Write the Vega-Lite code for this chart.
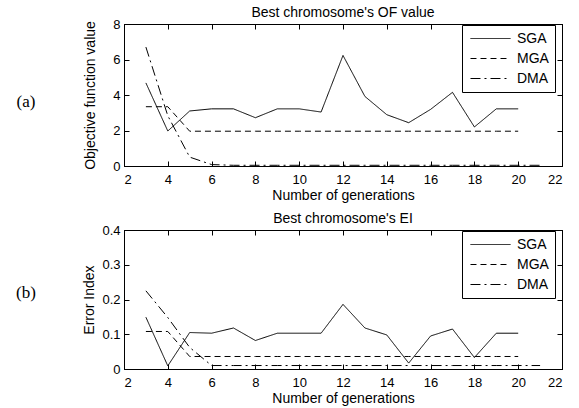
{
  "$schema": "https://vega.github.io/schema/vega-lite/v6.json",
  "padding": 5,
  "background": "white",
  "config": {
    "font": "Liberation Sans",
    "view": {"stroke": "black", "strokeWidth": 1},
    "axis": {"grid": false, "domainColor": "black", "tickColor": "black", "labelColor": "black", "titleColor": "black", "labelFont": "Liberation Sans", "titleFont": "Liberation Sans", "labelFontSize": 13, "titleFontSize": 14, "titleFontWeight": "normal", "tickSize": -5, "domainWidth": 1, "tickWidth": 1},
    "title": {"font": "Liberation Sans", "fontSize": 14, "fontWeight": "normal", "color": "black", "offset": -2},
    "legend": {"labelFont": "Liberation Sans", "labelFontSize": 14, "labelColor": "black"}
  },
  "datasets": {
    "of": [
      {"gen": 3, "series": "SGA", "value": 4.68}, {"gen": 4, "series": "SGA", "value": 1.97}, {"gen": 5, "series": "SGA", "value": 3.1}, {"gen": 6, "series": "SGA", "value": 3.22}, {"gen": 7, "series": "SGA", "value": 3.22}, {"gen": 8, "series": "SGA", "value": 2.72}, {"gen": 9, "series": "SGA", "value": 3.22}, {"gen": 10, "series": "SGA", "value": 3.22}, {"gen": 11, "series": "SGA", "value": 3.04}, {"gen": 12, "series": "SGA", "value": 6.23}, {"gen": 13, "series": "SGA", "value": 3.92}, {"gen": 14, "series": "SGA", "value": 2.89}, {"gen": 15, "series": "SGA", "value": 2.44}, {"gen": 16, "series": "SGA", "value": 3.19}, {"gen": 17, "series": "SGA", "value": 4.15}, {"gen": 18, "series": "SGA", "value": 2.2}, {"gen": 19, "series": "SGA", "value": 3.22}, {"gen": 20, "series": "SGA", "value": 3.22},
      {"gen": 3, "series": "MGA", "value": 3.34}, {"gen": 4, "series": "MGA", "value": 3.34}, {"gen": 5, "series": "MGA", "value": 1.96}, {"gen": 6, "series": "MGA", "value": 1.96}, {"gen": 7, "series": "MGA", "value": 1.96}, {"gen": 8, "series": "MGA", "value": 1.96}, {"gen": 9, "series": "MGA", "value": 1.96}, {"gen": 10, "series": "MGA", "value": 1.96}, {"gen": 11, "series": "MGA", "value": 1.96}, {"gen": 12, "series": "MGA", "value": 1.96}, {"gen": 13, "series": "MGA", "value": 1.96}, {"gen": 14, "series": "MGA", "value": 1.96}, {"gen": 15, "series": "MGA", "value": 1.96}, {"gen": 16, "series": "MGA", "value": 1.96}, {"gen": 17, "series": "MGA", "value": 1.96}, {"gen": 18, "series": "MGA", "value": 1.96}, {"gen": 19, "series": "MGA", "value": 1.96}, {"gen": 20, "series": "MGA", "value": 1.96},
      {"gen": 3, "series": "DMA", "value": 6.7}, {"gen": 4, "series": "DMA", "value": 2.83}, {"gen": 5, "series": "DMA", "value": 0.5}, {"gen": 6, "series": "DMA", "value": 0.08}, {"gen": 7, "series": "DMA", "value": 0.04}, {"gen": 8, "series": "DMA", "value": 0.04}, {"gen": 9, "series": "DMA", "value": 0.04}, {"gen": 10, "series": "DMA", "value": 0.04}, {"gen": 11, "series": "DMA", "value": 0.04}, {"gen": 12, "series": "DMA", "value": 0.04}, {"gen": 13, "series": "DMA", "value": 0.04}, {"gen": 14, "series": "DMA", "value": 0.04}, {"gen": 15, "series": "DMA", "value": 0.04}, {"gen": 16, "series": "DMA", "value": 0.04}, {"gen": 17, "series": "DMA", "value": 0.04}, {"gen": 18, "series": "DMA", "value": 0.04}, {"gen": 19, "series": "DMA", "value": 0.04}, {"gen": 20, "series": "DMA", "value": 0.04}, {"gen": 21, "series": "DMA", "value": 0.04}
    ],
    "ei": [
      {"gen": 3, "series": "SGA", "value": 0.149}, {"gen": 4, "series": "SGA", "value": 0.009}, {"gen": 5, "series": "SGA", "value": 0.105}, {"gen": 6, "series": "SGA", "value": 0.103}, {"gen": 7, "series": "SGA", "value": 0.118}, {"gen": 8, "series": "SGA", "value": 0.082}, {"gen": 9, "series": "SGA", "value": 0.103}, {"gen": 10, "series": "SGA", "value": 0.103}, {"gen": 11, "series": "SGA", "value": 0.103}, {"gen": 12, "series": "SGA", "value": 0.186}, {"gen": 13, "series": "SGA", "value": 0.118}, {"gen": 14, "series": "SGA", "value": 0.098}, {"gen": 15, "series": "SGA", "value": 0.017}, {"gen": 16, "series": "SGA", "value": 0.095}, {"gen": 17, "series": "SGA", "value": 0.115}, {"gen": 18, "series": "SGA", "value": 0.033}, {"gen": 19, "series": "SGA", "value": 0.103}, {"gen": 20, "series": "SGA", "value": 0.103},
      {"gen": 3, "series": "MGA", "value": 0.108}, {"gen": 4, "series": "MGA", "value": 0.108}, {"gen": 5, "series": "MGA", "value": 0.036}, {"gen": 6, "series": "MGA", "value": 0.036}, {"gen": 7, "series": "MGA", "value": 0.036}, {"gen": 8, "series": "MGA", "value": 0.036}, {"gen": 9, "series": "MGA", "value": 0.036}, {"gen": 10, "series": "MGA", "value": 0.036}, {"gen": 11, "series": "MGA", "value": 0.036}, {"gen": 12, "series": "MGA", "value": 0.036}, {"gen": 13, "series": "MGA", "value": 0.036}, {"gen": 14, "series": "MGA", "value": 0.036}, {"gen": 15, "series": "MGA", "value": 0.036}, {"gen": 16, "series": "MGA", "value": 0.036}, {"gen": 17, "series": "MGA", "value": 0.036}, {"gen": 18, "series": "MGA", "value": 0.036}, {"gen": 19, "series": "MGA", "value": 0.036}, {"gen": 20, "series": "MGA", "value": 0.036},
      {"gen": 3, "series": "DMA", "value": 0.225}, {"gen": 4, "series": "DMA", "value": 0.148}, {"gen": 5, "series": "DMA", "value": 0.062}, {"gen": 6, "series": "DMA", "value": 0.01}, {"gen": 7, "series": "DMA", "value": 0.01}, {"gen": 8, "series": "DMA", "value": 0.01}, {"gen": 9, "series": "DMA", "value": 0.01}, {"gen": 10, "series": "DMA", "value": 0.01}, {"gen": 11, "series": "DMA", "value": 0.01}, {"gen": 12, "series": "DMA", "value": 0.01}, {"gen": 13, "series": "DMA", "value": 0.01}, {"gen": 14, "series": "DMA", "value": 0.01}, {"gen": 15, "series": "DMA", "value": 0.01}, {"gen": 16, "series": "DMA", "value": 0.01}, {"gen": 17, "series": "DMA", "value": 0.01}, {"gen": 18, "series": "DMA", "value": 0.01}, {"gen": 19, "series": "DMA", "value": 0.01}, {"gen": 20, "series": "DMA", "value": 0.01}, {"gen": 21, "series": "DMA", "value": 0.01}
    ]
  },
  "columns": 2,
  "bounds": "flush",
  "spacing": {"row": 64, "column": 77},
  "resolve": {"scale": {"strokeDash": "independent", "x": "independent", "y": "independent"}, "legend": {"strokeDash": "independent"}},
  "concat": [
    {
      "width": 42, "height": 142,
      "view": {"stroke": null},
      "data": {"values": [{"lab": "(a)"}]},
      "mark": {"type": "text", "font": "Liberation Serif", "fontSize": 17, "color": "black", "dy": 7},
      "encoding": {"text": {"field": "lab"}}
    },
    {
      "width": 438, "height": 142,
      "title": "Best chromosome's OF value",
      "data": {"name": "of"},
      "layer": [
        {
          "mark": {"type": "line", "color": "black", "strokeWidth": 1, "clip": false},
          "encoding": {
            "x": {"field": "gen", "type": "quantitative", "scale": {"domain": [2, 22], "nice": false}, "axis": {"title": "Number of generations", "values": [2,4,6,8,10,12,14,16,18,20,22], "labelPadding": 12, "titlePadding": 2}},
            "y": {"field": "value", "type": "quantitative", "scale": {"domain": [0, 8], "nice": false}, "axis": {"title": "Objective function value", "values": [0,2,4,6,8], "labelPadding": 9, "titlePadding": 15}},
            "strokeDash": {"field": "series", "type": "nominal", "scale": {"domain": ["SGA", "MGA", "DMA"], "range": [[1, 0], [6, 4], [10, 4, 2, 4]]},
              "legend": {"title": null, "orient": "none", "legendX": 338, "legendY": 1, "symbolType": "M-3,0H3", "symbolSize": 178, "symbolOffset": 15, "symbolStrokeWidth": 1, "symbolStrokeColor": "black", "strokeColor": "black", "fillColor": "white", "padding": 6, "rowPadding": 5, "labelOffset": 19}}
          }
        },
        {
          "mark": {"type": "point", "opacity": 0},
          "encoding": {
            "x": {"field": "gen", "type": "quantitative", "axis": {"orient": "top", "title": null, "labels": false, "minExtent": 0, "maxExtent": 0, "values": [2,4,6,8,10,12,14,16,18,20,22]}},
            "y": {"field": "value", "type": "quantitative", "axis": {"orient": "right", "title": null, "labels": false, "minExtent": 0, "maxExtent": 0, "values": [0,2,4,6,8]}}
          }
        }
      ],
      "resolve": {"axis": {"x": "independent", "y": "independent"}}
    },
    {
      "width": 42, "height": 139,
      "view": {"stroke": null},
      "data": {"values": [{"lab": "(b)"}]},
      "mark": {"type": "text", "font": "Liberation Serif", "fontSize": 17, "color": "black", "dy": -7},
      "encoding": {"text": {"field": "lab"}}
    },
    {
      "width": 438, "height": 139,
      "title": "Best chromosome's EI",
      "data": {"name": "ei"},
      "layer": [
        {
          "mark": {"type": "line", "color": "black", "strokeWidth": 1, "clip": false},
          "encoding": {
            "x": {"field": "gen", "type": "quantitative", "scale": {"domain": [2, 22], "nice": false}, "axis": {"title": "Number of generations", "values": [2,4,6,8,10,12,14,16,18,20,22], "labelPadding": 12, "titlePadding": 2}},
            "y": {"field": "value", "type": "quantitative", "scale": {"domain": [0, 0.4], "nice": false}, "axis": {"title": "Error Index", "values": [0,0.1,0.2,0.3,0.4], "format": "~g", "labelPadding": 9, "titlePadding": 5}},
            "strokeDash": {"field": "series", "type": "nominal", "scale": {"domain": ["SGA", "MGA", "DMA"], "range": [[1, 0], [6, 4], [10, 4, 2, 4]]},
              "legend": {"title": null, "orient": "none", "legendX": 338, "legendY": 1, "symbolType": "M-3,0H3", "symbolSize": 178, "symbolOffset": 15, "symbolStrokeWidth": 1, "symbolStrokeColor": "black", "strokeColor": "black", "fillColor": "white", "padding": 6, "rowPadding": 5, "labelOffset": 19}}
          }
        },
        {
          "mark": {"type": "point", "opacity": 0},
          "encoding": {
            "x": {"field": "gen", "type": "quantitative", "axis": {"orient": "top", "title": null, "labels": false, "minExtent": 0, "maxExtent": 0, "values": [2,4,6,8,10,12,14,16,18,20,22]}},
            "y": {"field": "value", "type": "quantitative", "axis": {"orient": "right", "title": null, "labels": false, "minExtent": 0, "maxExtent": 0, "values": [0,0.1,0.2,0.3,0.4]}}
          }
        }
      ],
      "resolve": {"axis": {"x": "independent", "y": "independent"}}
    }
  ]
}
